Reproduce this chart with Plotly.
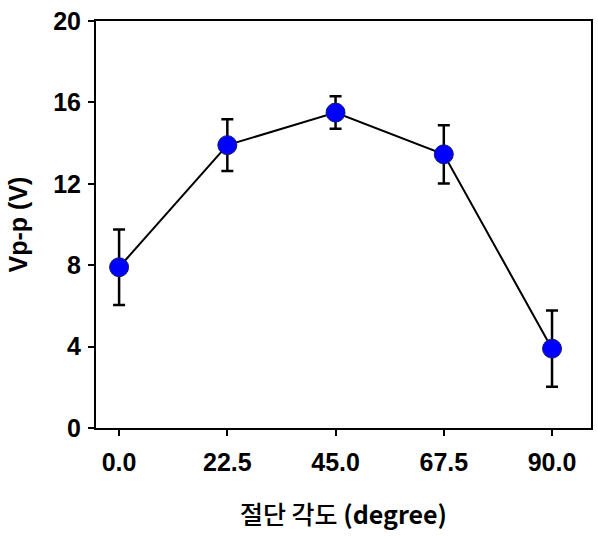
import plotly.graph_objects as go

# Cutting angle vs peak-to-peak voltage
angles = [0.0, 22.5, 45.0, 67.5, 90.0]
vpp = [7.9, 13.9, 15.5, 13.45, 3.9]
vpp_err = [1.85, 1.27, 0.8, 1.43, 1.87]
x_ticks = [0.0, 22.5, 45.0, 67.5, 90.0]
x_tick_text = ["0.0", "22.5", "45.0", "67.5", "90.0"]
y_ticks = [0, 4, 8, 12, 16, 20]

fig = go.Figure()
fig.add_trace(go.Scatter(
    x=angles,
    y=vpp,
    mode="lines+markers",
    line=dict(color="black", width=2),
    marker=dict(color="#0000FF", size=19, line=dict(color="#1a1a6a", width=1)),
    error_y=dict(type="data", array=vpp_err, visible=True,
                 color="black", thickness=2.5, width=6),
    showlegend=False,
))

tick_font = dict(family="Liberation Sans, Arial", size=25, color="black", weight="bold")

fig.update_layout(
    width=598,
    height=536,
    margin=dict(l=96, r=5, t=21, b=108),
    paper_bgcolor="white",
    plot_bgcolor="white",
    xaxis=dict(
        range=[-4.8, 98.1],
        tickvals=x_ticks,
        ticktext=x_tick_text,
        ticks="outside",
        ticklen=6,
        tickwidth=2,
        tickcolor="black",
        ticklabelstandoff=5,
        showline=True,
        linecolor="black",
        linewidth=2,
        mirror=True,
        showgrid=False,
        zeroline=False,
        tickfont=tick_font,
        title=dict(
            text="절단 각도 <b>(degree)</b>",
            font=dict(family="Noto Sans CJK KR", size=25, color="black", weight=500),
            standoff=31,
        ),
    ),
    yaxis=dict(
        range=[0, 20],
        tickvals=y_ticks,
        ticks="outside",
        ticklen=6,
        tickwidth=2,
        tickcolor="black",
        ticklabelstandoff=2,
        showline=True,
        linecolor="black",
        linewidth=2,
        mirror=True,
        showgrid=False,
        zeroline=False,
        tickfont=tick_font,
        title=dict(
            text="Vp-p (V)",
            font=dict(family="Liberation Sans, Arial", size=25, color="black", weight="bold"),
            standoff=18,
        ),
    ),
)

fig.write_html("out.html")
